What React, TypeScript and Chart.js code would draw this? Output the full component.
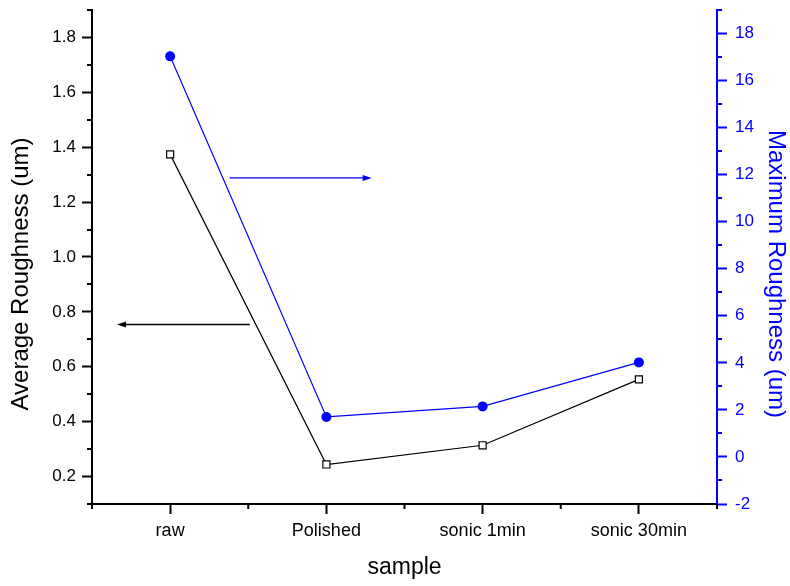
import React, { useEffect, useRef } from 'react';
import { Chart, registerables } from 'chart.js';

Chart.register(...registerables);

const categories = ['raw', 'Polished', 'sonic 1min', 'sonic 30min'];
const averageRoughness = [1.374, 0.244, 0.314, 0.554];
const maximumRoughness = [17.03, 1.7, 2.15, 4.02];

const leftTicks = [0.2, 0.4, 0.6, 0.8, 1.0, 1.2, 1.4, 1.6, 1.8];
const leftMinorTicks = [0.1, 0.3, 0.5, 0.7, 0.9, 1.1, 1.3, 1.5, 1.7, 1.9];
const rightTicks = [-2, 0, 2, 4, 6, 8, 10, 12, 14, 16, 18];
const rightMinorTicks = [-1, 1, 3, 5, 7, 9, 11, 13, 15, 17, 19];

// annotation arrows, in data units
const arrowBlue = { axis: 'y1', from: 0.38, to: 1.29, value: 11.86 };
const arrowBlack = { axis: 'y', from: 0.51, to: -0.34, value: 0.754 };

const BLUE = '#0000ff';
const FONT = '"Liberation Sans", Arial, sans-serif';

const extrasPlugin = {
  id: 'extras',
  afterDraw(chart: any) {
    const { ctx, chartArea, scales } = chart;
    const { left, right, top, bottom } = chartArea;
    ctx.save();
    // minor ticks
    ctx.lineWidth = 2;
    ctx.strokeStyle = '#000';
    ctx.beginPath();
    leftMinorTicks.forEach((v) => {
      const y = Math.round(scales.y.getPixelForValue(v));
      ctx.moveTo(left - 5, y);
      ctx.lineTo(left, y);
    });
    const x0 = scales.x.getPixelForValue(0);
    const x1 = scales.x.getPixelForValue(1);
    const half = (x1 - x0) / 2;
    for (let i = 0; i <= categories.length; i++) {
      const x = x0 - half + i * 2 * half;
      ctx.moveTo(x, bottom);
      ctx.lineTo(x, bottom + 5);
    }
    ctx.stroke();
    ctx.strokeStyle = BLUE;
    ctx.beginPath();
    rightMinorTicks.forEach((v) => {
      const y = Math.round(scales.y1.getPixelForValue(v));
      ctx.moveTo(right, y);
      ctx.lineTo(right + 5, y);
    });
    ctx.stroke();

    // arrows
    const drawArrow = (a: any, color: string) => {
      const xs = scales.x.getPixelForValue(a.from);
      const xe = scales.x.getPixelForValue(a.to);
      const y = scales[a.axis].getPixelForValue(a.value);
      const dir = Math.sign(xe - xs);
      ctx.strokeStyle = color;
      ctx.fillStyle = color;
      ctx.lineWidth = 1.3;
      ctx.beginPath();
      ctx.moveTo(xs, y);
      ctx.lineTo(xe - dir * 6, y);
      ctx.stroke();
      ctx.beginPath();
      ctx.moveTo(xe, y);
      ctx.lineTo(xe - dir * 9, y - 3);
      ctx.lineTo(xe - dir * 9, y + 3);
      ctx.closePath();
      ctx.fill();
    };
    drawArrow(arrowBlue, BLUE);
    drawArrow(arrowBlack, '#000');

    // y-axis titles
    const midY = (top + bottom) / 2 + 17;
    ctx.font = `24px ${FONT}`;
    ctx.textAlign = 'center';
    ctx.textBaseline = 'alphabetic';
    ctx.fillStyle = '#000';
    ctx.save();
    ctx.translate(28, midY);
    ctx.rotate(-Math.PI / 2);
    ctx.fillText('Average Roughness (um)', 0, 0);
    ctx.restore();
    ctx.fillStyle = BLUE;
    ctx.save();
    ctx.translate(769, midY);
    ctx.rotate(Math.PI / 2);
    ctx.fillText('Maximum Roughness (um)', 0, 0);
    ctx.restore();
    ctx.restore();
  },
};

export default function App() {
  const ref = useRef<HTMLCanvasElement>(null);
  useEffect(() => {
    if (!ref.current) return;
    const chart = new Chart(ref.current, {
      type: 'line',
      data: {
        labels: categories,
        datasets: [
          {
            label: 'Average Roughness',
            data: averageRoughness,
            yAxisID: 'y',
            borderColor: '#000',
            borderWidth: 1.2,
            pointStyle: 'rect',
            pointRadius: 5,
            pointBorderWidth: 1.2,
            pointBackgroundColor: '#fff',
            pointBorderColor: '#000',
            tension: 0,
          },
          {
            label: 'Maximum Roughness',
            data: maximumRoughness,
            yAxisID: 'y1',
            borderColor: BLUE,
            borderWidth: 1.2,
            pointStyle: 'circle',
            pointRadius: 5,
            pointBorderWidth: 0,
            pointBackgroundColor: BLUE,
            pointBorderColor: BLUE,
            tension: 0,
          },
        ],
      },
      options: {
        responsive: false,
        animation: false,
        layout: { padding: { top: 10, left: 0, right: 0, bottom: 0 } },
        plugins: { legend: { display: false }, tooltip: { enabled: false } },
        scales: {
          x: {
            type: 'category',
            offset: true,
            grid: { drawOnChartArea: false, drawTicks: true, tickLength: 10, tickWidth: 2, tickColor: '#000', offset: false },
            border: { display: true, color: '#000', width: 2 },
            ticks: { color: '#000', font: { family: FONT, size: 18 }, padding: 6, maxRotation: 0 },
            title: { display: true, text: 'sample', color: '#000', font: { family: FONT, size: 23 }, padding: { top: 0, bottom: 5 } },
            afterFit: (s: any) => { s.height = 82; s.paddingLeft = 0; s.paddingRight = 0; },
          },
          y: {
            type: 'linear',
            position: 'left',
            min: 0.1,
            max: 1.9,
            afterBuildTicks: (s: any) => { s.ticks = leftTicks.map((v) => ({ value: v })); },
            grid: { drawOnChartArea: false, drawTicks: true, tickLength: 10, tickWidth: 2, tickColor: '#000' },
            border: { display: true, color: '#000', width: 2 },
            ticks: { color: '#000', font: { family: FONT, size: 17 }, padding: 6, callback: (v: any) => Number(v).toFixed(1) },
            afterFit: (s: any) => { s.width = 92; s.paddingTop = 0; s.paddingBottom = 0; },
          },
          y1: {
            type: 'linear',
            position: 'right',
            min: -2,
            max: 19,
            afterBuildTicks: (s: any) => { s.ticks = rightTicks.map((v) => ({ value: v })); },
            grid: { drawOnChartArea: false, drawTicks: true, tickLength: 10, tickWidth: 2, tickColor: BLUE },
            border: { display: true, color: BLUE, width: 2 },
            ticks: { color: BLUE, font: { family: FONT, size: 17 }, padding: 8, callback: (v: any) => String(v) },
            afterFit: (s: any) => { s.width = 73; s.paddingTop = 0; s.paddingBottom = 0; },
          },
        },
      },
      plugins: [extrasPlugin],
    } as any);
    return () => chart.destroy();
  }, []);
  return (
    <div style={{ position: 'absolute', left: 0, top: 0, width: 790, height: 586, background: '#fff' }}>
      <canvas ref={ref} width={790} height={586} style={{ display: 'block' }} />
    </div>
  );
}
